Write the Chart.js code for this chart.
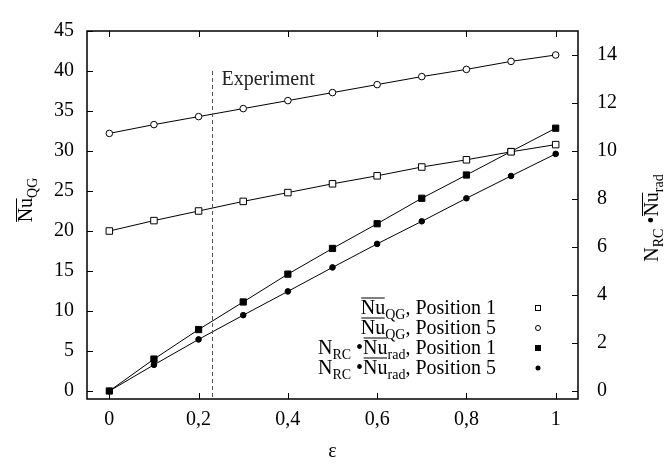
<!DOCTYPE html>
<html>
<head>
<meta charset="utf-8">
<script src="https://cdn.jsdelivr.net/npm/chart.js@4.4.0/dist/chart.umd.min.js"></script>
<style>
  html, body { margin: 0; padding: 0; background: #fff; }
</style>
</head>
<body>
<canvas id="chart" width="666" height="465"></canvas>
<script>
// Values
const EPSILON = [0, 0.1, 0.2, 0.3, 0.4, 0.5, 0.6, 0.7, 0.8, 0.9, 1.0];
const NU_QG_POS1 = [20.0, 21.3, 22.5, 23.7, 24.8, 25.9, 26.9, 28.0, 28.9, 29.9, 30.8];
const NU_QG_POS5 = [32.2, 33.3, 34.3, 35.3, 36.3, 37.3, 38.3, 39.3, 40.2, 41.2, 42.0];
const NRC_NU_RAD_POS1 = [0.0, 1.33, 2.56, 3.71, 4.87, 5.94, 6.97, 8.03, 9.0, 9.98, 10.95];
const NRC_NU_RAD_POS5 = [0.0, 1.09, 2.15, 3.16, 4.15, 5.15, 6.13, 7.07, 8.03, 8.96, 9.88];

const X_TICKS = [0, 0.2, 0.4, 0.6, 0.8, 1];
const X_TICK_LABELS = ['0', '0,2', '0,4', '0,6', '0,8', '1'];
const Y_TICKS = [0, 5, 10, 15, 20, 25, 30, 35, 40, 45];
const Y2_TICKS = [0, 2, 4, 6, 8, 10, 12, 14];

const EXPERIMENT_X = 0.23;
const EXPERIMENT_TOP = 40;
const EXPERIMENT_LABEL = 'Experiment';

const X_TITLE = 'ε';
const Y_TITLE = [{ t: 'Nu', over: true }, { t: 'QG', sub: true }];
const Y2_TITLE = [{ t: 'N' }, { t: 'RC', sub: true }, { t: ' •' }, { t: 'Nu', over: true }, { t: 'rad', sub: true }];

const LEGEND_LABELS = [
    [{ t: 'Nu', over: true }, { t: 'QG', sub: true }, { t: ', Position 1' }],
    [{ t: 'Nu', over: true }, { t: 'QG', sub: true }, { t: ', Position 5' }],
    [{ t: 'N' }, { t: 'RC', sub: true }, { t: ' •' }, { t: 'Nu', over: true }, { t: 'rad', sub: true }, { t: ', Position 1' }],
    [{ t: 'N' }, { t: 'RC', sub: true }, { t: ' •' }, { t: 'Nu', over: true }, { t: 'rad', sub: true }, { t: ', Position 5' }]
];

const FONT_FAMILY = '"Liberation Serif", "DejaVu Serif", serif';
const MAIN_FONT = '20px ' + FONT_FAMILY;
const SUB_FONT = '14px ' + FONT_FAMILY;

function richWidth(ctx, segs) {
    let w = 0;
    segs.forEach((s) => {
        ctx.font = s.sub ? SUB_FONT : MAIN_FONT;
        w += ctx.measureText(s.t).width;
    });
    return w;
}

// x = left start, y = baseline
function drawRich(ctx, segs, x, y) {
    let cx = x;
    segs.forEach((s) => {
        ctx.font = s.sub ? SUB_FONT : MAIN_FONT;
        const w = ctx.measureText(s.t).width;
        ctx.fillText(s.t, cx, s.sub ? y + 5 : y);
        if (s.over) {
            ctx.fillRect(cx + 0.5, y - 16, w - 1, 1);
        }
        cx += w;
    });
}

function toPoints(values) {
    return EPSILON.map((x, i) => ({ x: x, y: values[i] }));
}

const decorPlugin = {
    id: 'decor',
    afterDraw(chart) {
        const ctx = chart.ctx;
        const area = chart.chartArea;
        const sx = chart.scales.x;
        const sy = chart.scales.y;
        const sy2 = chart.scales.y2;
        const tick = 6;

        ctx.save();
        ctx.fillStyle = '#000';
        ctx.strokeStyle = '#000';
        ctx.textBaseline = 'alphabetic';
        ctx.textAlign = 'left';

        // experiment marker
        const ex = Math.round(sx.getPixelForValue(EXPERIMENT_X)) + 0.5;
        ctx.save();
        ctx.strokeStyle = '#555';
        ctx.lineWidth = 1;
        ctx.setLineDash([4, 3]);
        ctx.beginPath();
        ctx.moveTo(ex, sy.getPixelForValue(EXPERIMENT_TOP));
        ctx.lineTo(ex, area.bottom);
        ctx.stroke();
        ctx.restore();
        ctx.font = MAIN_FONT;
        ctx.fillStyle = '#222';
        ctx.fillText(EXPERIMENT_LABEL, ex + 9, sy.getPixelForValue(38.2));
        ctx.fillStyle = '#000';

        // inward ticks
        ctx.lineWidth = 1;
        ctx.beginPath();
        X_TICKS.forEach((v) => {
            const px = Math.round(sx.getPixelForValue(v)) + 0.5;
            ctx.moveTo(px, area.bottom);
            ctx.lineTo(px, area.bottom - tick);
            ctx.moveTo(px, area.top);
            ctx.lineTo(px, area.top + tick);
        });
        Y_TICKS.forEach((v) => {
            const py = Math.round(sy.getPixelForValue(v)) + 0.5;
            ctx.moveTo(area.left, py);
            ctx.lineTo(area.left + tick, py);
        });
        Y2_TICKS.forEach((v) => {
            const py = Math.round(sy2.getPixelForValue(v)) + 0.5;
            ctx.moveTo(area.right, py);
            ctx.lineTo(area.right - tick, py);
        });
        ctx.stroke();

        // frame
        ctx.lineWidth = 1.5;
        ctx.strokeRect(area.left, area.top, area.right - area.left, area.bottom - area.top);

        // axis titles
        ctx.font = MAIN_FONT;
        ctx.textAlign = 'center';
        ctx.textBaseline = 'middle';
        ctx.fillText(X_TITLE, (area.left + area.right) / 2, 452);
        ctx.textAlign = 'left';
        ctx.textBaseline = 'alphabetic';

        ctx.save();
        ctx.translate(32, 200);
        ctx.rotate(-Math.PI / 2);
        drawRich(ctx, Y_TITLE, -richWidth(ctx, Y_TITLE) / 2, 0);
        ctx.restore();

        ctx.save();
        ctx.translate(658, 218);
        ctx.rotate(-Math.PI / 2);
        drawRich(ctx, Y2_TITLE, -richWidth(ctx, Y2_TITLE) / 2, 0);
        ctx.restore();

        // legend
        const textRight = 496;
        const symX = 538;
        chart.data.datasets.forEach((ds, i) => {
            const cy = 308 + i * 20;
            const segs = LEGEND_LABELS[i];
            drawRich(ctx, segs, textRight - richWidth(ctx, segs), cy + 5.5);
            ctx.lineWidth = 1;
            ctx.beginPath();
            if (ds.pointStyle === 'rect') {
                const h = ds.backgroundColor === '#000' ? 3 : 2.5;
                if (ds.backgroundColor === '#000') {
                    ctx.fillRect(symX - h, cy - h, 2 * h, 2 * h);
                } else {
                    ctx.strokeRect(symX - h, cy - h, 2 * h, 2 * h);
                }
            } else {
                const r = ds.backgroundColor === '#000' ? 2.5 : 2.5;
                ctx.arc(symX, cy, r, 0, Math.PI * 2);
                if (ds.backgroundColor === '#000') {
                    ctx.fill();
                } else {
                    ctx.stroke();
                }
            }
        });
        ctx.restore();
    }
};

Chart.defaults.font.family = FONT_FAMILY;
Chart.defaults.font.size = 20;
Chart.defaults.color = '#000';

new Chart(document.getElementById('chart'), {
    type: 'scatter',
    data: {
        datasets: [
            {
                label: 'Nu_QG, Position 1',
                data: toPoints(NU_QG_POS1),
                yAxisID: 'y',
                pointStyle: 'rect',
                pointRadius: 4.6,
                backgroundColor: '#fff',
                borderColor: '#000'
            },
            {
                label: 'Nu_QG, Position 5',
                data: toPoints(NU_QG_POS5),
                yAxisID: 'y',
                pointStyle: 'circle',
                pointRadius: 3.3,
                backgroundColor: '#fff',
                borderColor: '#000'
            },
            {
                label: 'N_RC Nu_rad, Position 1',
                data: toPoints(NRC_NU_RAD_POS1),
                yAxisID: 'y2',
                pointStyle: 'rect',
                pointRadius: 4.4,
                backgroundColor: '#000',
                borderColor: '#000'
            },
            {
                label: 'N_RC Nu_rad, Position 5',
                data: toPoints(NRC_NU_RAD_POS5),
                yAxisID: 'y2',
                pointStyle: 'circle',
                pointRadius: 2.8,
                backgroundColor: '#000',
                borderColor: '#000'
            }
        ].map((ds) => Object.assign(ds, {
            showLine: true,
            borderWidth: 1,
            pointBorderWidth: 1,
            pointHoverRadius: 0
        }))
    },
    options: {
        responsive: false,
        animation: false,
        events: [],
        layout: {
            padding: { top: 13, left: 0, right: 0, bottom: 0 }
        },
        plugins: {
            legend: { display: false },
            tooltip: { enabled: false }
        },
        scales: {
            x: {
                type: 'linear',
                min: -0.05,
                max: 1.05,
                grid: { display: false, drawTicks: false },
                border: { display: false },
                afterBuildTicks: (scale) => {
                    scale.ticks = X_TICKS.map((v) => ({ value: v }));
                },
                afterFit: (scale) => {
                    scale.height = 66;
                },
                ticks: {
                    padding: 9,
                    maxRotation: 0,
                    autoSkip: false,
                    callback: (value) => X_TICK_LABELS[X_TICKS.indexOf(value)]
                }
            },
            y: {
                type: 'linear',
                position: 'left',
                min: -1,
                max: 45,
                grid: { display: false, drawTicks: false },
                border: { display: false },
                afterBuildTicks: (scale) => {
                    scale.ticks = Y_TICKS.map((v) => ({ value: v }));
                },
                afterFit: (scale) => {
                    scale.width = 87;
                },
                ticks: {
                    padding: 13,
                    autoSkip: false
                }
            },
            y2: {
                type: 'linear',
                position: 'right',
                min: -1 / 3,
                max: 15,
                grid: { display: false, drawTicks: false },
                border: { display: false },
                afterBuildTicks: (scale) => {
                    scale.ticks = Y2_TICKS.map((v) => ({ value: v }));
                },
                afterFit: (scale) => {
                    scale.width = 88;
                },
                ticks: {
                    padding: 19,
                    autoSkip: false
                }
            }
        }
    },
    plugins: [decorPlugin]
});
</script>
</body>
</html>
